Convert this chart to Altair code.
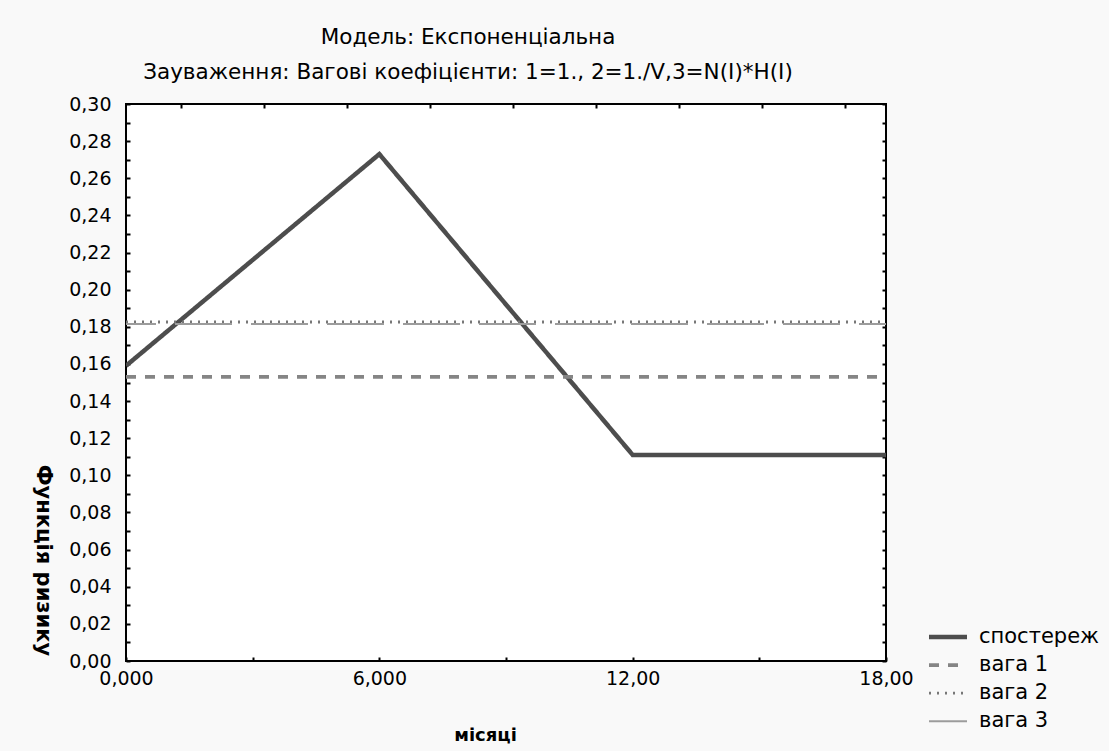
import altair as alt
import pandas as pd

# ---- data ----
months = [0, 6, 12, 18]
observed = [0.159, 0.273, 0.111, 0.111]
weight_x = [0, 18]
weight1 = [0.153, 0.153]
weight2 = [0.1826, 0.1826]
weight3 = [0.1815, 0.1815]

series = ["спостереж", "вага 1", "вага 2", "вага 3"]
colors = ["#4d4d4d", "#858585", "#777777", "#9c9c9c"]
dashes = [[1, 0], [10, 9], [2, 6], [57, 19]]
widths = [4.5, 2, 2, 2.5]

y_ticks = [round(i * 0.01, 2) for i in range(31)]
x_ticks = [0, 3, 6, 9, 12, 15, 18]
x_labels = {0: "0,000", 6: "6,000", 12: "12,00", 18: "18,00"}
top_ticks = [1.3, 3.27, 5.24, 7.2, 9.17, 11.13, 13.1, 15.07, 17.03]

rows = []
for m, v in zip(months, observed):
    rows.append({"month": m, "value": v, "series": series[0]})
for s, vals in zip(series[1:], [weight1, weight2, weight3]):
    for m, v in zip(weight_x, vals):
        rows.append({"month": m, "value": v, "series": s})
df = pd.DataFrame(rows)

FONT = "DejaVu Sans"
TICK_FS = 19
LEG_FS = 21
TITLE_FS = 21.5

x_label_expr = " : ".join(
    [f"datum.value == {k} ? '{v}'" for k, v in x_labels.items()]
) + " : ''"
y_label_expr = "round(datum.value * 100) % 2 == 0 ? replace(format(datum.value, '.2f'), '.', ',') : ''"

xscale = alt.Scale(domain=[0, 18], nice=False, zero=False)
yscale = alt.Scale(domain=[0, 0.30], nice=False, zero=True)

color = alt.Color("series:N", scale=alt.Scale(domain=series, range=colors),
                  legend=alt.Legend(title=None, orient="none", legendX=810, legendY=521,
                                    symbolType="M-2,0H2", symbolSize=361,
                                    labelFont=FONT, labelFontSize=LEG_FS, labelColor="#000",
                                    rowPadding=6.6, labelOffset=19))
dash = alt.StrokeDash("series:N", scale=alt.Scale(domain=series, range=dashes))
sw = alt.StrokeWidth("series:N", scale=alt.Scale(domain=series, range=widths))

x_main = alt.X("month:Q", scale=xscale,
               axis=alt.Axis(orient="bottom", values=x_ticks, labelExpr=x_label_expr,
                             offset=-4, tickSize=4, tickWidth=2, domain=False, grid=False,
                             tickColor="#000", labelPadding=8, labelFont=FONT,
                             labelFontSize=TICK_FS, labelColor="#000", labelFlush=False,
                             labelOverlap=False,
                             title="місяці", titleFont=FONT, titleFontSize=18,
                             titleFontWeight="bold", titleColor="#000",
                             titleX=359, titleY=78, titleAlign="center",
                             titleBaseline="middle"))
y_main = alt.Y("value:Q", scale=yscale,
               axis=alt.Axis(orient="left", values=y_ticks, labelExpr=y_label_expr,
                             offset=-4, tickSize=4, tickWidth=2, domain=False, grid=False,
                             tickColor="#000", labelPadding=15, labelFont=FONT,
                             labelFontSize=TICK_FS, labelColor="#000", labelFlush=False,
                             labelOverlap=False,
                             title="Функція ризику", titleFont=FONT, titleFontSize=21,
                             titleFontWeight="bold", titleColor="#000", titleAngle=90,
                             titleX=-88, titleY=456, titleAlign="center",
                             titleBaseline="middle"))

base = alt.Chart(df)

main_layer = base.mark_line(clip=True).encode(
    x=x_main, y=y_main, color=color, strokeDash=dash, strokeWidth=sw
).transform_filter(alt.datum.series != "вага 3")

w3_layer = base.mark_line(clip=True, strokeDashOffset=27).encode(
    x=alt.X("month:Q", scale=xscale, axis=None),
    y=alt.Y("value:Q", scale=yscale, axis=None),
    color=color, strokeDash=dash, strokeWidth=sw
).transform_filter(alt.datum.series == "вага 3")

frame_layer = base.mark_line(opacity=0).encode(
    x=alt.X("month:Q", scale=xscale,
            axis=alt.Axis(orient="top", values=top_ticks, labels=False, offset=-4,
                          tickSize=4, tickWidth=2, tickColor="#000", domain=False,
                          grid=False, title=None)),
    y=alt.Y("value:Q", scale=yscale,
            axis=alt.Axis(orient="right", values=y_ticks, labels=False, offset=-4,
                          tickSize=4, tickWidth=2, tickColor="#000", domain=False,
                          grid=False, title=None)),
).transform_filter(alt.datum.series == "спостереж")

chart = alt.layer(main_layer, w3_layer, frame_layer).resolve_axis(
    x="independent", y="independent"
).properties(
    width=760, height=557,
    padding={"left": 126, "top": 104, "right": 223, "bottom": 90},
    autosize=alt.AutoSizeParams(type="none"),
    background="#f9f9f9",
    title=alt.TitleParams(
        text=["Модель: Експоненціальна",
              "Зауваження: Вагові коефіцієнти: 1=1., 2=1./V,3=N(I)*H(I)"],
        font=FONT, fontSize=TITLE_FS, fontWeight="normal", color="#000",
        lineHeight=35, anchor="middle", dx=-38, offset=12
    )
).configure_view(
    fill="white", stroke="#000", strokeWidth=2
)

chart.save("out.html", embed_options={"renderer": "svg", "actions": False})
